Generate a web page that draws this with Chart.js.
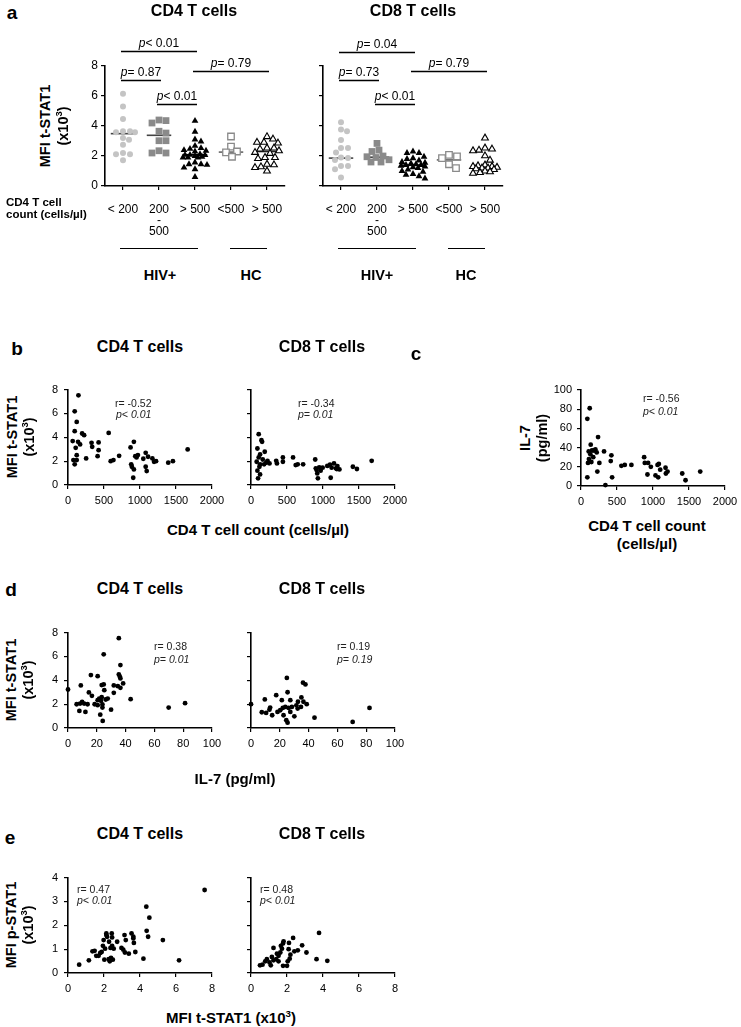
<!DOCTYPE html>
<html><head><meta charset="utf-8">
<script src="https://cdn.jsdelivr.net/npm/chart.js@4.4.0/dist/chart.umd.min.js"></script>
<style>
body{margin:0;background:#fff;}
#root{position:relative;width:741px;height:1027px;overflow:hidden;background:#fff;font-family:'Liberation Sans',Arial,sans-serif;color:#000;}
canvas{position:absolute;}
.t{position:absolute;white-space:nowrap;line-height:1;}
.t sup{font-size:0.65em;line-height:0;}
.hl{position:absolute;height:0;border-top:1.6px solid #000;}
</style></head><body><div id="root"></div>
<script>
// ---------- DATA ----------
// Panel a: categories
const catLabels = ['< 200', ['200', '-', '500'], '> 500', '<500', '> 500'];
// Panel a, CD4 T cells: MFI t-STAT1 (x10^3) per group
const a4_lt200 = [6.15, 5.3, 4.47, 3.65, 3.65, 3.58, 3.58, 3.2, 3.09, 2.75, 2.2, 2.12, 2.12, 1.72];
const a4_mid = [4.4, 4.36, 4.2, 3.65, 3.53, 3.02, 3.02, 2.35, 2.2, 2.2];
const a4_gt500 = [4.34, 3.62, 3.1, 2.97, 2.68, 2.53, 2.48, 2.39, 2.35, 2.3, 2.12, 2.08, 2.08, 2.06, 2.0, 1.95, 1.9, 1.9, 1.9, 1.57, 1.45, 1.45, 1.41, 1.23, 1.12, 0.6];
const a4_hcLt500 = [3.3, 2.62, 2.3, 2.24, 1.95];
const a4_hcGt500 = [3.29, 3.13, 2.91, 2.91, 2.86, 2.53, 2.53, 2.46, 2.35, 2.24, 2.17, 1.9, 1.9, 1.83, 1.45, 1.41, 1.28, 1.23, 1.0];
const a4_medians = [3.49, 3.38, 2.08, 2.26, 2.3];
// Panel a, CD8 T cells
const a8_lt200 = [4.25, 3.76, 3.65, 3.06, 2.53, 2.53, 2.24, 1.9, 1.86, 1.74, 1.34, 1.34, 1.12, 0.56];
const a8_mid = [2.84, 2.39, 2.3, 2.0, 1.95, 1.9, 1.75, 1.6, 1.6];
const a8_gt500 = [2.3, 2.2, 2.2, 1.95, 1.85, 1.8, 1.7, 1.6, 1.55, 1.5, 1.45, 1.4, 1.4, 1.35, 1.3, 1.25, 1.2, 1.1, 1.0, 0.95, 0.8, 0.75, 0.65, 0.5];
const a8_hcLt500 = [2.08, 1.97, 1.86, 1.45, 1.19];
const a8_hcGt500 = [3.2, 2.53, 2.46, 2.39, 2.35, 2.01, 1.72, 1.4, 1.35, 1.3, 1.3, 1.25, 1.2, 1.2, 1.15, 1.1, 1.0, 0.95, 0.9, 0.85];
const a8_medians = [1.86, 1.92, 1.39, 1.74, 1.27];
// Panel a comparison brackets: [fromGroup, toGroup, level, label]
const a4_pvals = [[0, 2, 9.0, '< 0.01'], [0, 1, 7.07, '= 0.87'], [2, 4, 7.69, '= 0.79'], [1, 2, 5.45, '< 0.01']];
const a8_pvals = [[0, 2, 8.95, '= 0.04'], [0, 1, 7.07, '= 0.73'], [2, 4, 7.69, '= 0.79'], [1, 2, 5.45, '< 0.01']];

// Panel b: CD4 count vs MFI t-STAT1
const b4_count = [145, 93, 121, 93, 65, 140, 168, 107, 196, 224, 121, 121, 75, 93, 252, 327, 336, 425, 425, 411, 565, 593, 631, 710, 869, 915, 878, 887, 915, 906, 934, 971, 952, 1046, 1079, 1112, 1079, 1093, 1172, 1195, 1223, 1392, 1457, 1662];
const b4_tstat = [7.52, 6.18, 5.29, 4.51, 3.68, 3.62, 3.4, 3.12, 4.32, 4.18, 2.5, 2.09, 2.09, 1.73, 2.23, 3.54, 3.2, 3.57, 2.92, 2.42, 4.37, 2.0, 2.09, 2.45, 3.15, 3.62, 1.73, 1.53, 1.31, 0.61, 2.42, 2.51, 2.31, 2.2, 2.7, 2.37, 1.53, 1.17, 2.23, 1.95, 2.0, 1.87, 2.0, 2.98];
const b8_count = [107, 145, 154, 89, 191, 126, 107, 163, 229, 79, 126, 182, 117, 89, 126, 98, 210, 257, 350, 360, 443, 443, 584, 621, 649, 724, 892, 911, 920, 929, 948, 967, 995, 1097, 1107, 1153, 1191, 1200, 1228, 1415, 1471, 1676, 900, 1060, 1120, 1180];
const b8_tstat = [4.26, 3.76, 3.62, 3.06, 2.79, 2.56, 2.31, 2.14, 2.03, 1.95, 1.73, 1.73, 1.53, 1.2, 0.89, 0.56, 1.87, 1.81, 2.03, 1.81, 2.31, 1.95, 2.31, 1.67, 1.73, 1.73, 2.14, 1.25, 0.97, 0.56, 1.48, 1.2, 1.45, 1.7, 0.61, 1.81, 1.34, 1.59, 1.31, 1.53, 1.34, 2.03, 1.4, 1.6, 1.45, 1.4];
// Panel c: CD4 count vs IL-7
const c_count = [121, 88, 237, 135, 107, 153, 181, 218, 320, 422, 97, 144, 255, 413, 227, 88, 432, 339, 561, 608, 700, 877, 886, 932, 923, 970, 1035, 1063, 1081, 1100, 1072, 1174, 1179, 1202, 1406, 1452, 1656, 110, 130, 170, 200];
const c_il7 = [81, 70, 51, 43, 36, 37, 37, 35, 36, 32, 24, 25, 24, 26, 15, 9, 9, 1, 21, 22, 22, 30, 24, 24, 12, 20, 11, 22, 23, 17, 9, 19, 13, 15, 13, 6, 15, 28, 33, 30, 38];
// Panel d: IL-7 vs MFI t-STAT1
const d4_il7 = [0, 35.3, 24.8, 36.4, 35.3, 36, 36.4, 15.9, 20.6, 8.9, 24.8, 25.2, 23.4, 34.6, 31.8, 36.4, 38.3, 14.5, 16.6, 31.8, 6, 8.4, 9.8, 11.2, 13.6, 18.5, 20.6, 21.7, 22.9, 23.4, 26.2, 27.6, 20.6, 43.5, 7.9, 12.1, 23.9, 29.9, 22.4, 24.1, 69.9, 81.3, 23.9];
const d4_tstat = [3.23, 7.53, 6.18, 5.28, 4.49, 4.3, 4.16, 4.44, 4.35, 3.57, 3.65, 3.17, 3.6, 3.51, 3.57, 3.37, 3.74, 2.98, 2.7, 2.95, 1.99, 2.05, 2.19, 2.05, 1.99, 1.99, 2.33, 2.47, 2.28, 2.58, 2.39, 2.47, 1.91, 2.42, 1.43, 1.35, 1.71, 1.54, 1.12, 0.59, 1.71, 2.08, 1.97];
const d8_il7 = [0, 24.9, 36.1, 37.8, 25.4, 9.6, 17.5, 21.4, 27.3, 32.6, 35, 31.5, 36.4, 38.7, 7.5, 10.5, 12.8, 13.3, 14.7, 18.4, 20.3, 22.1, 23.8, 26.1, 27.3, 28.4, 22.6, 24.5, 25.4, 30.1, 32.4, 34.7, 44.1, 70.6, 82.3];
const d8_tstat = [2.0, 4.2, 3.8, 3.65, 3.0, 2.4, 2.75, 2.33, 2.33, 2.2, 2.56, 1.9, 2.2, 2.0, 1.32, 1.26, 1.54, 1.71, 1.07, 1.35, 1.49, 1.68, 1.77, 1.68, 1.35, 1.77, 1.07, 0.65, 0.45, 0.98, 1.63, 1.77, 0.87, 0.51, 1.68];
// Panel e: MFI t-STAT1 vs MFI p-STAT1
const e4_tstat = [0.62, 1.16, 1.36, 1.48, 1.57, 1.7, 1.79, 1.87, 1.98, 2.13, 2.13, 2.17, 2.06, 1.94, 2.28, 2.36, 2.45, 2.43, 2.45, 2.54, 2.73, 2.02, 2.26, 2.32, 2.39, 2.49, 2.97, 3.07, 3.14, 3.21, 3.16, 3.38, 3.53, 3.63, 3.66, 3.74, 3.63, 4.19, 4.35, 4.52, 4.37, 4.45, 5.27, 6.17, 7.59];
const e4_pstat = [0.35, 0.53, 0.91, 0.93, 0.72, 0.72, 0.84, 0.88, 1.38, 1.66, 1.59, 1.52, 1.02, 1.14, 1.31, 1.05, 1.49, 1.66, 1.14, 1.02, 1.31, 0.56, 0.58, 0.49, 0.63, 0.56, 1.05, 0.98, 1.59, 1.38, 0.86, 0.81, 1.66, 1.52, 1.26, 0.88, 1.45, 0.6, 2.78, 2.32, 1.77, 1.52, 1.38, 0.53, 3.48];
const e8_tstat = [0.5, 0.64, 0.79, 0.88, 1.03, 1.1, 1.16, 1.25, 1.4, 1.44, 1.53, 1.63, 1.66, 1.72, 1.78, 1.81, 1.25, 1.53, 1.78, 2.0, 2.04, 2.15, 2.19, 2.09, 2.11, 2.34, 2.41, 2.6, 2.84, 3.08, 3.64, 3.78, 4.24];
const e8_pstat = [0.32, 0.35, 0.49, 0.58, 0.44, 0.32, 0.67, 0.53, 0.58, 0.81, 0.72, 0.86, 1.14, 1.02, 1.24, 1.33, 1.05, 0.49, 0.3, 0.3, 0.49, 0.6, 0.77, 1.0, 1.26, 1.47, 0.91, 0.95, 1.16, 0.86, 0.58, 1.68, 0.51];

// ---------- RENDERING ----------
const FONT = "'Liberation Sans', Arial, sans-serif";
Chart.defaults.font.family = FONT;
Chart.defaults.color = '#000';
const root = document.getElementById('root');

function T(html, x, y, o = {}) {
  const d = document.createElement('div');
  d.className = 't';
  d.innerHTML = html;
  d.style.left = x + 'px';
  d.style.top = y + 'px';
  d.style.fontSize = (o.size || 12) + 'px';
  if (o.bold) d.style.fontWeight = 'bold';
  if (o.italic) d.style.fontStyle = 'italic';
  if (o.color) d.style.color = o.color;
  let tr = o.left ? 'translate(0,-50%)' : 'translate(-50%,-50%)';
  if (o.rot) tr += ' rotate(-90deg)';
  d.style.transform = tr;
  root.appendChild(d);
}
function HL(x, y, w) {
  const d = document.createElement('div');
  d.className = 'hl';
  d.style.left = x + 'px'; d.style.top = y + 'px'; d.style.width = w + 'px';
  root.appendChild(d);
}

const bracketPlugin = {
  id: 'brackets',
  afterDatasetsDraw(chart, args, opts) {
    if (!opts || !opts.items) return;
    const { ctx } = chart; const xs = chart.scales.x, ys = chart.scales.y;
    ctx.save();
    ctx.strokeStyle = '#000'; ctx.fillStyle = '#000'; ctx.lineWidth = 1.6;
    for (const [a, b, lvl, lab] of opts.items) {
      const x1 = xs.getPixelForValue(a) - 2, x2 = xs.getPixelForValue(b) + 2;
      const y = Math.round(ys.getPixelForValue(lvl)) + 0.5;
      ctx.beginPath(); ctx.moveTo(x1, y); ctx.lineTo(x2, y); ctx.stroke();
      ctx.font = 'italic 12px ' + FONT; const wp = ctx.measureText('p').width;
      ctx.font = '12px ' + FONT; const wr = ctx.measureText(lab).width;
      const sx = (x1 + x2) / 2 - (wp + wr) / 2;
      ctx.textBaseline = 'alphabetic'; ctx.textAlign = 'left';
      ctx.font = 'italic 12px ' + FONT; ctx.fillText('p', sx, y - 5);
      ctx.font = '12px ' + FONT; ctx.fillText(lab, sx + wp, y - 5);
    }
    ctx.restore();
  }
};

function axisCfg(min, max, step, o = {}) {
  return {
    type: 'linear', min, max,
    ticks: { stepSize: step, color: '#000', font: { size: o.fs || 11 }, padding: o.pad ?? 4,
      callback: o.cb || (v => v), maxRotation: 0, autoSkip: false },
    grid: { display: true, drawOnChartArea: false, drawTicks: true, tickLength: 4, color: '#000', lineWidth: 1.2 },
    border: { display: true, color: '#000', width: 1.6 }
  };
}

function mk(plotL, plotT, w, h, cfg) {
  const yW = cfg.yW ?? 40, padT = cfg.padT ?? 12, padB = cfg.padB ?? 30, padR = cfg.padR ?? 20;
  const W = yW + w + padR, H = padT + h + padB;
  const c = document.createElement('canvas');
  c.width = W; c.height = H;
  c.style.left = (plotL - yW) + 'px'; c.style.top = (plotT - padT) + 'px';
  c.style.width = W + 'px'; c.style.height = H + 'px';
  root.appendChild(c);
  cfg.x.afterFit = s => { s.height = padB; };
  cfg.y.afterFit = s => { s.width = yW; };
  new Chart(c, {
    type: 'scatter',
    data: { datasets: cfg.datasets },
    options: {
      responsive: false, animation: false, devicePixelRatio: 1,
      layout: { padding: { top: padT, right: padR, left: 0, bottom: 0 } },
      scales: { x: cfg.x, y: cfg.y },
      plugins: { legend: { display: false }, tooltip: { enabled: false }, brackets: { items: cfg.brackets || null } }
    },
    plugins: [bracketPlugin]
  });
}

function dots(xs, ys) {
  return [{ data: xs.map((x, i) => ({ x, y: ys[i] })), pointRadius: 2.4, pointBackgroundColor: '#000', pointBorderWidth: 0, clip: false }];
}

// compact beeswarm layout for dot plots (pixel-space collision avoidance, capped width)
function swarm(vals, center, pxY, pxX, dmin, cap) {
  const placed = [];
  const sorted = vals.slice().sort((a, b) => b - a);
  const cands = [0];
  for (let k = 1; k <= cap; k++) { cands.push(k, -k); }
  return sorted.map(v => {
    const py = v * pxY; let off = null, best = -1, bestOff = 0;
    for (const c of cands) {
      const md = placed.length ? Math.min(...placed.map(p => Math.hypot(p.x - c, p.y - py))) : 1e9;
      if (md >= dmin) { off = c; break; }
      if (md > best) { best = md; bestOff = c; }
    }
    if (off === null) off = bestOff;
    placed.push({ x: off, y: py });
    return { x: center + off / pxX, y: v };
  });
}

const groupStyles = [
  { pointStyle: 'circle', r: 3, bg: '#c4c4c4', bc: '#c4c4c4', bw: 0, d: 6.2 },
  { pointStyle: 'rect', r: 4.8, bg: '#8a8a8a', bc: '#8a8a8a', bw: 0, d: 7.0 },
  { pointStyle: 'triangle', r: 3.9, bg: '#000', bc: '#000', bw: 0, d: 5.6 },
  { pointStyle: 'rect', r: 4.6, bg: '#fff', bc: '#8a8a8a', bw: 1.3, d: 7.2 },
  { pointStyle: 'triangle', r: 3.9, bg: '#fff', bc: '#000', bw: 1.1, d: 6.2 }
];
const medianColors = ['#444', '#444', '#000', '#666', '#222'];

function dotPlot(groups, medians) {
  const ds = [];
  groups.forEach((vals, i) => {
    const s = groupStyles[i];
    ds.push({ data: swarm(vals, i, 15, 36, s.d, 12), pointStyle: s.pointStyle, pointRadius: s.r,
      pointBackgroundColor: s.bg, pointBorderColor: s.bc, pointBorderWidth: s.bw, clip: false });
  });
  medians.forEach((m, i) => {
    ds.push({ data: [{ x: i - 0.34, y: m }, { x: i + 0.34, y: m }], showLine: true, borderColor: medianColors[i],
      borderWidth: 1.6, pointRadius: 0, clip: false });
  });
  return ds;
}

function catAxis() {
  const a = axisCfg(-0.5, 4.5, 1, { fs: 12, pad: 14, cb: v => catLabels[v] });
  a.ticks.font = { size: 12, lineHeight: 0.92 };
  a.afterBuildTicks = s => { s.ticks = [0, 1, 2, 3, 4].map(v => ({ value: v })); };
  return a;
}

// ---- Panel a ----
mk(105, 66, 180, 120, {
  padT: 50, padB: 60,
  x: catAxis(), y: axisCfg(0, 8, 2, { fs: 12, pad: 3 }),
  datasets: dotPlot([a4_lt200, a4_mid, a4_gt500, a4_hcLt500, a4_hcGt500], a4_medians),
  brackets: a4_pvals
});
mk(323, 66, 180, 120, {
  padT: 50, padB: 60,
  x: catAxis(), y: axisCfg(0, 8, 2, { fs: 12, pad: 3, cb: () => '' }),
  datasets: dotPlot([a8_lt200, a8_mid, a8_gt500, a8_hcLt500, a8_hcGt500], a8_medians),
  brackets: a8_pvals
});
T('a', 12, 12, { size: 19, bold: 1 });
T('CD4 T cells', 194, 11, { size: 16, bold: 1 });
T('CD8 T cells', 413, 11, { size: 16, bold: 1 });
T('MFI t-STAT1', 45, 126, { size: 14.5, bold: 1, rot: 1 });
T('(x10<sup>3</sup>)', 63, 126, { size: 14.5, bold: 1, rot: 1 });
T('CD4 T cell', 6, 203, { size: 11.5, bold: 1, left: 1 });
T('count (cells/µl)', 6, 215, { size: 11.5, bold: 1, left: 1 });
HL(120, 247.5, 78); HL(230, 247.5, 37);
HL(338, 247.5, 78); HL(448, 247.5, 37);
T('HIV+', 160, 275, { size: 14.5, bold: 1 });
T('HC', 251, 275, { size: 14.5, bold: 1 });
T('HIV+', 377, 275, { size: 14.5, bold: 1 });
T('HC', 466, 275, { size: 14.5, bold: 1 });

// ---- Panel b ----
mk(68, 389, 144, 96, { x: axisCfg(0, 2000, 500, { pad: 5 }), y: axisCfg(0, 8, 2, { pad: 6 }), datasets: dots(b4_count, b4_tstat) });
mk(251, 389, 144, 96, { x: axisCfg(0, 2000, 500, { pad: 5 }), y: axisCfg(0, 8, 2, { pad: 6, cb: () => '' }), datasets: dots(b8_count, b8_tstat) });
T('b', 17, 348, { size: 19, bold: 1 });
T('CD4 T cells', 140, 347, { size: 16, bold: 1 });
T('CD8 T cells', 322, 347, { size: 16, bold: 1 });
T('MFI t-STAT1', 12, 437, { size: 14.5, bold: 1, rot: 1 });
T('(x10<sup>3</sup>)', 29, 437, { size: 14.5, bold: 1, rot: 1 });
T('CD4 T cell count (cells/µl)', 258, 529, { size: 15, bold: 1 });
T('r= -0.52', 115, 403, { size: 10.5, left: 1, color: '#222' });
T('p&lt; 0.01', 116, 414, { size: 10.5, left: 1, italic: 1, color: '#222' });
T('r= -0.34', 298, 403, { size: 10.5, left: 1, color: '#222' });
T('p= 0.01', 298, 414, { size: 10.5, left: 1, italic: 1, color: '#222' });

// ---- Panel c ----
mk(581, 390, 144, 96, { x: axisCfg(0, 2000, 500, { pad: 5 }), y: axisCfg(0, 100, 20, { pad: 5 }), datasets: dots(c_count, c_il7) });
T('c', 416, 353, { size: 19, bold: 1 });
T('IL-7', 525, 438, { size: 14.5, bold: 1, rot: 1 });
T('(pg/ml)', 542, 438, { size: 14.5, bold: 1, rot: 1 });
T('CD4 T cell count', 647, 525, { size: 15, bold: 1 });
T('(cells/µl)', 647, 543, { size: 15, bold: 1 });
T('r= -0.56', 643, 398, { size: 10.5, left: 1, color: '#222' });
T('p&lt; 0.01', 643, 411, { size: 10.5, left: 1, italic: 1, color: '#222' });

// ---- Panel d ----
mk(68, 632, 144, 96, { x: axisCfg(0, 100, 20, { pad: 5 }), y: axisCfg(0, 8, 2, { pad: 6 }), datasets: dots(d4_il7, d4_tstat) });
mk(251, 632, 144, 96, { x: axisCfg(0, 100, 20, { pad: 5 }), y: axisCfg(0, 8, 2, { pad: 6, cb: () => '' }), datasets: dots(d8_il7, d8_tstat) });
T('d', 11, 589, { size: 19, bold: 1 });
T('CD4 T cells', 140, 589, { size: 16, bold: 1 });
T('CD8 T cells', 322, 589, { size: 16, bold: 1 });
T('MFI t-STAT1', 11, 680, { size: 14.5, bold: 1, rot: 1 });
T('(x10<sup>3</sup>)', 28, 680, { size: 14.5, bold: 1, rot: 1 });
T('IL-7 (pg/ml)', 235, 778, { size: 15, bold: 1 });
T('r= 0.38', 154, 646, { size: 10.5, left: 1, color: '#222' });
T('p= 0.01', 154, 659, { size: 10.5, left: 1, italic: 1, color: '#222' });
T('r= 0.19', 337, 646, { size: 10.5, left: 1, color: '#222' });
T('p= 0.19', 337, 659, { size: 10.5, left: 1, italic: 1, color: '#222' });

// ---- Panel e ----
mk(68, 877, 144, 96, { x: axisCfg(0, 8, 2, { pad: 5 }), y: axisCfg(0, 4, 1, { pad: 6 }), datasets: dots(e4_tstat, e4_pstat) });
mk(251, 877, 144, 96, { x: axisCfg(0, 8, 2, { pad: 5 }), y: axisCfg(0, 4, 1, { pad: 6, cb: () => '' }), datasets: dots(e8_tstat, e8_pstat) });
T('e', 10, 837, { size: 19, bold: 1 });
T('CD4 T cells', 140, 834, { size: 16, bold: 1 });
T('CD8 T cells', 322, 834, { size: 16, bold: 1 });
T('MFI p-STAT1', 11, 925, { size: 14.5, bold: 1, rot: 1 });
T('(x10<sup>3</sup>)', 28, 925, { size: 14.5, bold: 1, rot: 1 });
T('MFI t-STAT1 (x10<sup>3</sup>)', 231, 1017, { size: 15, bold: 1 });
T('r= 0.47', 77, 889, { size: 10.5, left: 1, color: '#222' });
T('p&lt; 0.01', 77, 900, { size: 10.5, left: 1, italic: 1, color: '#222' });
T('r= 0.48', 260, 889, { size: 10.5, left: 1, color: '#222' });
T('p&lt; 0.01', 260, 900, { size: 10.5, left: 1, italic: 1, color: '#222' });
</script></body></html>
